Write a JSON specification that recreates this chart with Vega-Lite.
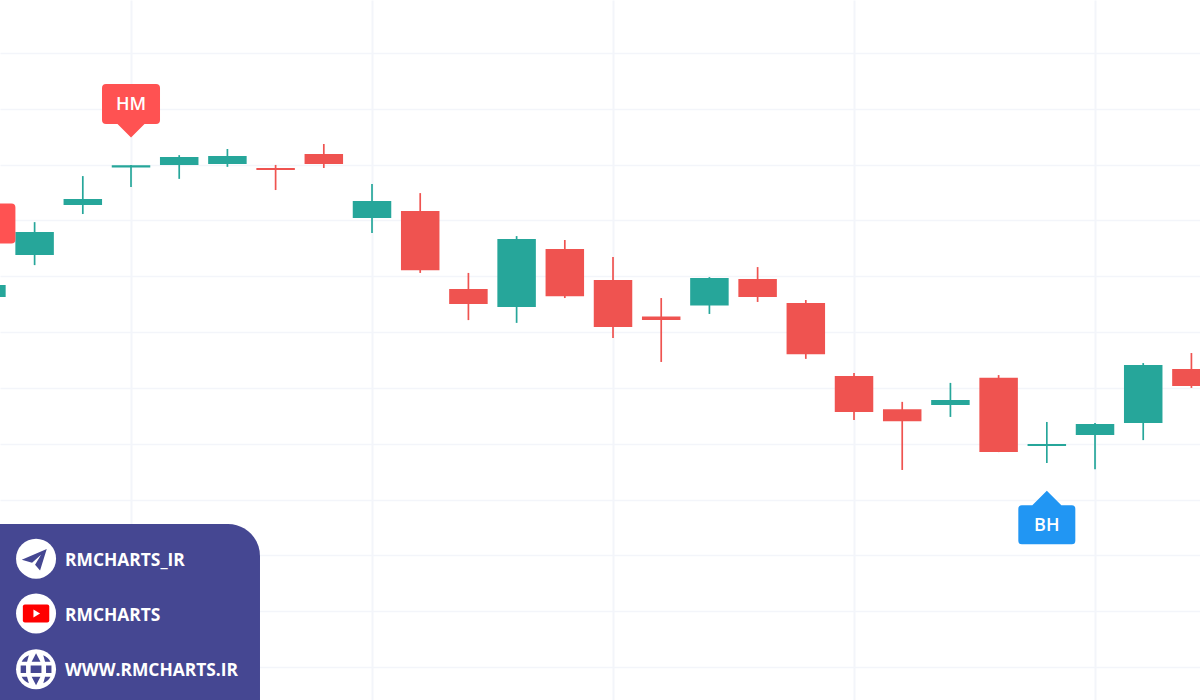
{
"$schema":"https://vega.github.io/schema/vega-lite/v6.json",
"width":1200,"height":700,
"autosize":{"type":"fit","contains":"padding"},
"padding":0,
"background":"#ffffff",
"config":{"view":{"stroke":null}},
"datasets":{
"candles":[
{"i":0,"open":1132.6,"high":1136.9,"low":1132.6,"close":1136.9,"dir":"up"},
{"i":1,"open":1147.6,"high":1159.4,"low":1144.0,"close":1155.9,"dir":"up"},
{"i":2,"open":1165.5,"high":1175.9,"low":1162.3,"close":1167.7,"dir":"up"},
{"i":3,"open":1179.0,"high":1179.9,"low":1172.0,"close":1179.8,"dir":"up"},
{"i":4,"open":1179.9,"high":1183.4,"low":1174.9,"close":1182.7,"dir":"up"},
{"i":5,"open":1180.2,"high":1185.6,"low":1179.2,"close":1183.1,"dir":"up"},
{"i":6,"open":1178.8,"high":1179.9,"low":1170.9,"close":1178.1,"dir":"down"},
{"i":7,"open":1183.8,"high":1187.4,"low":1178.8,"close":1180.2,"dir":"down"},
{"i":8,"open":1160.9,"high":1173.1,"low":1155.5,"close":1167.0,"dir":"up"},
{"i":9,"open":1163.4,"high":1169.8,"low":1141.2,"close":1142.2,"dir":"down"},
{"i":10,"open":1135.4,"high":1141.2,"low":1124.3,"close":1130.1,"dir":"down"},
{"i":11,"open":1129.0,"high":1154.4,"low":1123.3,"close":1153.4,"dir":"up"},
{"i":12,"open":1149.8,"high":1153.0,"low":1132.2,"close":1132.8,"dir":"down"},
{"i":13,"open":1138.7,"high":1146.9,"low":1117.9,"close":1121.8,"dir":"down"},
{"i":14,"open":1125.6,"high":1132.2,"low":1109.3,"close":1124.3,"dir":"down"},
{"i":15,"open":1129.5,"high":1139.7,"low":1126.5,"close":1139.4,"dir":"up"},
{"i":16,"open":1139.0,"high":1143.3,"low":1130.8,"close":1132.6,"dir":"down"},
{"i":17,"open":1130.4,"high":1131.5,"low":1110.4,"close":1112.1,"dir":"down"},
{"i":18,"open":1104.3,"high":1105.3,"low":1088.5,"close":1091.4,"dir":"down"},
{"i":19,"open":1092.4,"high":1095.0,"low":1070.6,"close":1088.1,"dir":"down"},
{"i":20,"open":1093.9,"high":1101.8,"low":1089.6,"close":1095.7,"dir":"up"},
{"i":21,"open":1103.6,"high":1104.6,"low":1077.0,"close":1077.0,"dir":"down"},
{"i":22,"open":1079.2,"high":1087.8,"low":1073.1,"close":1079.9,"dir":"up"},
{"i":23,"open":1083.1,"high":1087.4,"low":1070.9,"close":1087.1,"dir":"up"},
{"i":24,"open":1087.4,"high":1108.9,"low":1081.3,"close":1108.2,"dir":"up"},
{"i":25,"open":1106.8,"high":1112.5,"low":1100.0,"close":1100.7,"dir":"down"}
]
},
"layer":[
{"data":{"name":"candles"},"mark":{"type":"rule","strokeWidth":1.7,"clip":true},
 "encoding":{
  "x":{"field":"i","type":"quantitative","scale":{"domain":[0.282,25.178],"nice":false,"zero":false,"padding":0},
   "axis":{"title":null,"labels":false,"ticks":false,"domain":false,"values":[3,8,13,18,23],"grid":true,"gridColor":"#f3f5fa","gridWidth":2}},
  "y":{"field":"low","type":"quantitative","scale":{"domain":[988.18,1238.99],"nice":false,"zero":false,"padding":0},
   "axis":{"title":null,"labels":false,"ticks":false,"domain":false,"values":[1000,1020,1040,1060,1080,1100,1120,1140,1160,1180,1200,1220],"grid":true,"gridColor":"#f3f5fa","gridWidth":1.5}},
  "y2":{"field":"high"},
  "color":{"field":"dir","type":"nominal","scale":{"domain":["up","down"],"range":["#26a69a","#ef5350"]},"legend":null}
 }},
{"data":{"name":"candles"},"mark":{"type":"bar","size":38.5,"clip":true},
 "encoding":{
  "x":{"field":"i","type":"quantitative"},
  "y":{"field":"open","type":"quantitative"},
  "y2":{"field":"close"},
  "color":{"field":"dir","type":"nominal","legend":null}
 }},
{"data":{"values":[{"i":0,"p":1158.9},{"i":3,"p":1201.7}]},
 "mark":{"type":"point","filled":true,"opacity":1,"clip":true,"color":"#ff5252","size":10000,
  "shape":"M-0.5,-0.4 H0.5 Q0.58,-0.4 0.58,-0.32 V0.32 Q0.58,0.4 0.5,0.4 H0.27 L0,0.67 L-0.27,0.4 H-0.5 Q-0.58,0.4 -0.58,0.32 V-0.32 Q-0.58,-0.4 -0.5,-0.4 Z"},
 "encoding":{"x":{"field":"i","type":"quantitative"},"y":{"field":"p","type":"quantitative"}}},
{"data":{"values":[{"i":22,"p":1051.0}]},
 "mark":{"type":"point","filled":true,"opacity":1,"clip":true,"color":"#2196f3","size":10000,
  "shape":"M-0.5,-0.39 H-0.29 L0,-0.68 L0.29,-0.39 H0.5 Q0.57,-0.39 0.57,-0.32 V0.32 Q0.57,0.39 0.5,0.39 H-0.5 Q-0.57,0.39 -0.57,0.32 V-0.32 Q-0.57,-0.39 -0.5,-0.39 Z"},
 "encoding":{"x":{"field":"i","type":"quantitative"},"y":{"field":"p","type":"quantitative"}}},
{"data":{"values":[{"i":0,"p":1158.6,"t":"HA"},{"i":3,"p":1201.3,"t":"HM"},{"i":22,"p":1050.7,"t":"BH"}]},
 "mark":{"type":"text","color":"#ffffff","font":"Open Sans","fontSize":18,"fontWeight":600,"clip":true,"align":"center","baseline":"middle"},
 "encoding":{"x":{"field":"i","type":"quantitative"},"y":{"field":"p","type":"quantitative"},"text":{"field":"t"}}},
{"data":{"values":[{"x1":0.282,"x2":5.676,"y1":988.18,"y2":1051.24}]},
 "mark":{"type":"rect","color":"#454792","cornerRadiusTopRight":32,"clip":true},
 "encoding":{"x":{"field":"x1","type":"quantitative"},"x2":{"field":"x2"},"y":{"field":"y1","type":"quantitative"},"y2":{"field":"y2"}}},
{"data":{"values":[{"i":1.03,"p":1038.8},{"i":1.03,"p":1019.2},{"i":1.03,"p":999.2}]},
 "mark":{"type":"point","filled":true,"opacity":1,"shape":"circle","size":1600,"color":"#ffffff","clip":true},
 "encoding":{"x":{"field":"i","type":"quantitative"},"y":{"field":"p","type":"quantitative"}}},
{"data":{"values":[{"i":1.03,"p":1038.8}]},
 "mark":{"type":"point","filled":true,"opacity":1,"size":1600,"color":"#454792","clip":true,
  "shape":"M.535,-.485 L-.715,.05 L-.2,.2 L.25,-.2 L-.05,.3 L.2,.585 Z"},
 "encoding":{"x":{"field":"i","type":"quantitative"},"y":{"field":"p","type":"quantitative"}}},
{"data":{"values":[{"i":1.03,"p":1019.2}]},
 "mark":{"type":"point","filled":true,"opacity":1,"size":1600,"color":"#ff0000","clip":true,
  "shape":"M-.56,-.45 H.56 Q.66,-.45 .66,-.35 V.35 Q.66,.45 .56,.45 H-.56 Q-.66,.45 -.66,.35 V-.35 Q-.66,-.45 -.56,-.45 Z"},
 "encoding":{"x":{"field":"i","type":"quantitative"},"y":{"field":"p","type":"quantitative"}}},
{"data":{"values":[{"i":1.03,"p":1019.2}]},
 "mark":{"type":"point","filled":true,"opacity":1,"size":1600,"color":"#ffffff","clip":true,
  "shape":"M-.13,-.2 L.2,0 L-.13,.2 Z"},
 "encoding":{"x":{"field":"i","type":"quantitative"},"y":{"field":"p","type":"quantitative"}}},
{"data":{"values":[{"i":1.03,"p":999.2}]},
 "mark":{"type":"point","filled":true,"opacity":1,"size":1600,"color":"#454792","clip":true,
  "shape":"M-.77,-.19 H-.5 V.19 H-.77 Z M-.27,-.19 H.27 V.19 H-.27 Z M.5,-.19 H.77 V.19 H.5 Z M0,-.8 L.22,-.37 H-.22 Z M0,.8 L.22,.37 H-.22 Z M-.36,-.7 L-.45,-.37 H-.72 Q-.62,-.58 -.36,-.7 Z M.36,-.7 L.45,-.37 H.72 Q.62,-.58 .36,-.7 Z M-.36,.7 L-.45,.37 H-.72 Q-.62,.58 -.36,.7 Z M.36,.7 L.45,.37 H.72 Q.62,.58 .36,.7 Z"},
 "encoding":{"x":{"field":"i","type":"quantitative"},"y":{"field":"p","type":"quantitative"}}},
{"data":{"values":[{"i":1.631,"p":1038.1,"t":"RMCHARTS_IR"},{"i":1.631,"p":1018.4,"t":"RMCHARTS"},{"i":1.631,"p":998.4,"t":"WWW.RMCHARTS.IR"}]},
 "mark":{"type":"text","color":"#ffffff","font":"Open Sans","fontWeight":"bold","fontSize":17.4,"align":"left","baseline":"middle","clip":true},
 "encoding":{"x":{"field":"i","type":"quantitative"},"y":{"field":"p","type":"quantitative"},"text":{"field":"t"}}}
]
}
